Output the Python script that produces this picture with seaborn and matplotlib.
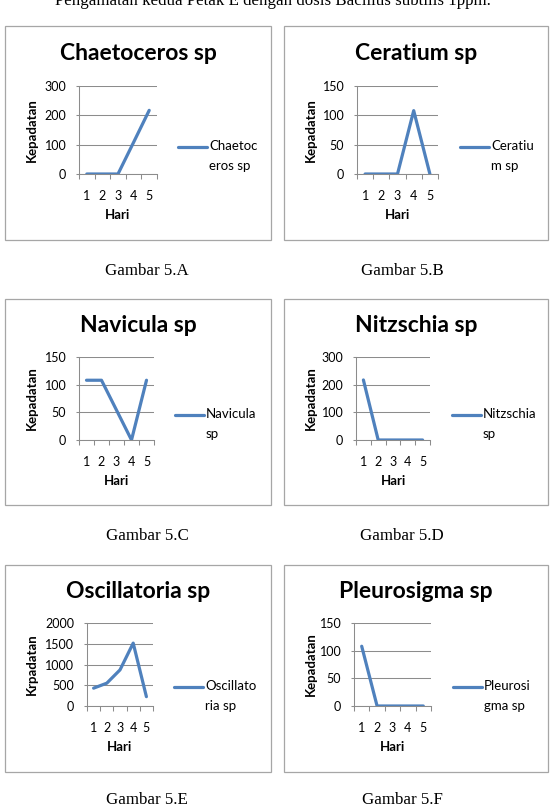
import matplotlib
matplotlib.use("Agg")
import matplotlib.pyplot as plt
from matplotlib.legend_handler import HandlerLine2D
from matplotlib.lines import Line2D
from matplotlib.patches import Rectangle
from matplotlib.ticker import FixedLocator, MultipleLocator
import pandas as pd
import seaborn as sns


# data
days = [1, 2, 3, 4, 5]
chaetoceros = [0, 0, 0, 108, 217]
ceratium = [0, 0, 0, 108, 0]
navicula = [108, 108, 54, 0, 108]
nitzschia = [217, 0, 0, 0, 0]
oscillatoria = [430, 550, 870, 1515, 225]
pleurosigma = [108, 0, 0, 0, 0]

species = ["Chaetoceros sp", "Ceratium sp", "Navicula sp",
           "Nitzschia sp", "Oscillatoria sp", "Pleurosigma sp"]
series = [chaetoceros, ceratium, navicula, nitzschia, oscillatoria, pleurosigma]
legend_labels = ["Chaetoc\neros sp", "Ceratiu\nm sp", "Navicula\nsp",
                 "Nitzschia\nsp", "Oscillato\nria sp", "Pleurosi\ngma sp"]
y_labels = ["Kepadatan", "Kepadatan", "Kepadatan", "Kepadatan", "Krpadatan", "Kepadatan"]
y_max = [300, 150, 150, 300, 2000, 150]
y_step = [100, 50, 50, 100, 500, 50]
captions = ["Gambar 5.A", "Gambar 5.B", "Gambar 5.C",
            "Gambar 5.D", "Gambar 5.E", "Gambar 5.F"]
header = "Pengamatan kedua Petak E dengan dosis Bacillus subtilis 1ppm."

W, H = 555, 806
LINE_BLUE = "#4F81BD"
GRID_GREY = "#8C8C8C"
BOX_GREY = "#A6A6A6"
LEGEND_SIZE = 9.5

# layout in pixels (x0, y0, x1, y1), y measured from the top
boxes = [(5, 26, 271, 240), (284, 26, 548, 240),
         (5, 299, 271, 505), (284, 299, 548, 505),
         (5, 565, 271, 772), (284, 565, 548, 772)]
axes_px = [(79, 86, 157, 174), (357, 86, 438, 174),
           (79, 357, 154, 440), (356, 357, 430, 440),
           (87, 623, 153, 706), (354, 623, 431, 706)]
legend_px = [(178, 146), (460, 146), (175, 414),
             (452, 414), (174, 686), (453, 686)]
caption_px = [(147, 271), (402, 271), (147, 536),
              (402, 536), (147, 800), (402, 800)]


def fx(px):
    return px / W


def fy(py):
    return 1 - py / H


class FirstLineHandler(HandlerLine2D):
    # Excel puts the legend key next to the first line of a wrapped label
    def create_artists(self, legend, orig_handle, xdescent, ydescent,
                       width, height, fontsize, trans):
        artists = super().create_artists(legend, orig_handle, xdescent, ydescent,
                                         width, height, fontsize, trans)
        for artist in artists:
            artist.set_ydata([y + 0.72 * fontsize for y in artist.get_ydata()])
        return artists


sns.set_theme(style="white")
plt.rcParams["font.family"] = ["Lato", "DejaVu Sans"]

fig = plt.figure(figsize=(W / 100, H / 100), dpi=100)

fig.text(fx(273), fy(5), header, ha="center", va="baseline",
         family=["Liberation Serif", "DejaVu Serif"], fontsize=12.2, color="black")

for i, (name, values) in enumerate(zip(species, series)):
    bx0, by0, bx1, by1 = boxes[i]
    fig.patches.append(Rectangle((fx(bx0), fy(by1)), (bx1 - bx0) / W, (by1 - by0) / H,
                                 transform=fig.transFigure, fill=False,
                                 edgecolor=BOX_GREY, linewidth=0.9))

    ax0, ay0, ax1, ay1 = axes_px[i]
    ax = fig.add_axes([fx(ax0), fy(ay1), (ax1 - ax0) / W, (ay1 - ay0) / H])

    df = pd.DataFrame({"Hari": days, "Kepadatan": values})
    sns.lineplot(data=df, x="Hari", y="Kepadatan", ax=ax, color=LINE_BLUE,
                 linewidth=2.3, solid_joinstyle="round", label=legend_labels[i])

    ax.set_xlim(0.5, 5.5)
    ax.set_ylim(0, y_max[i])
    ax.yaxis.set_major_locator(MultipleLocator(y_step[i]))
    ax.xaxis.set_major_locator(FixedLocator(days))
    ax.xaxis.set_minor_locator(FixedLocator([d - 0.5 for d in days] + [days[-1] + 0.5]))
    ax.tick_params(axis="x", which="major", length=0, pad=11.5, labelsize=9, colors="black")
    ax.tick_params(axis="x", which="minor", length=3.5, width=0.75,
                   color=GRID_GREY, direction="out", bottom=True)
    ax.tick_params(axis="y", length=2.2, width=0.75, color=GRID_GREY,
                   pad=7, labelsize=9, labelcolor="black", left=True)
    ax.grid(axis="y", color=GRID_GREY, linewidth=0.75)
    ax.grid(axis="x", visible=False)
    ax.set_axisbelow(True)
    for side in ["top", "right"]:
        ax.spines[side].set_visible(False)
    for side in ["left", "bottom"]:
        ax.spines[side].set_color(GRID_GREY)
        ax.spines[side].set_linewidth(0.75)

    ax.set_xlabel("Hari", fontweight="bold", fontsize=9.5, labelpad=5, color="black")
    ax.set_ylabel(y_labels[i], fontweight="bold", fontsize=9.5, color="black")
    ax.yaxis.set_label_coords((bx0 + 33 - ax0) / (ax1 - ax0), 0.5)

    fig.text(fx((bx0 + bx1) / 2), fy(by0 + 27), name, ha="center", va="center",
             fontsize=16.5, fontweight="bold", color="black")

    lx, ly = legend_px[i]
    handles, _ = ax.get_legend_handles_labels()
    leg = ax.legend(handles=handles, labels=[legend_labels[i]], loc="upper left",
                    bbox_to_anchor=(fx(lx), fy(ly - 6)), bbox_transform=fig.transFigure,
                    frameon=False, fontsize=LEGEND_SIZE, handlelength=2.2, handletextpad=0.15,
                    borderpad=0, borderaxespad=0, labelcolor="black",
                    handler_map={Line2D: FirstLineHandler()})
    for text in leg.get_texts():
        text.set_linespacing(1.75)

    cx, cy = caption_px[i]
    fig.text(fx(cx), fy(cy), captions[i], ha="center", va="center",
             family=["Liberation Serif", "DejaVu Serif"], fontsize=12.2, color="black")

fig.savefig("out.png", dpi=100)
